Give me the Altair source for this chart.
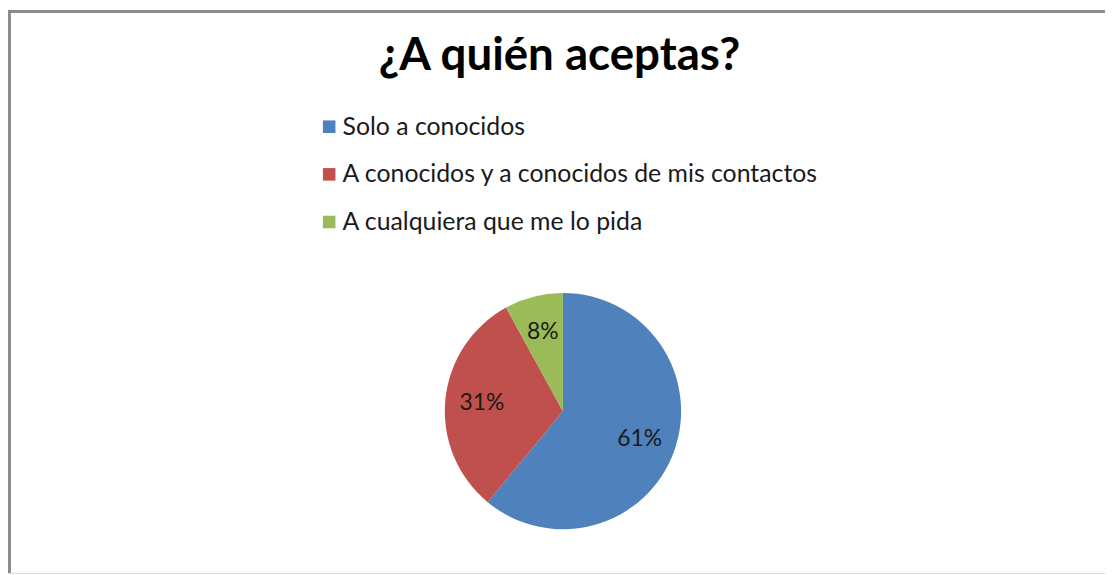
import altair as alt
import pandas as pd

categories = ["Solo a conocidos",
              "A conocidos y a conocidos de mis contactos",
              "A cualquiera que me lo pida"]
values = [61, 31, 8]
labels = ["61%", "31%", "8%"]
colors = ["#4F81BD", "#C0504D", "#9BBB59"]
title_text = "¿A quién aceptas?"

df = pd.DataFrame({"categoria": categories, "valor": values,
                   "etiqueta": labels, "orden": list(range(len(categories)))})
tdf = pd.DataFrame({"t": [title_text]})

W, H = 1105, 567
CX, CY, R = 559, 404, 119
FONT = "Lato"

base = alt.Chart(df).encode(
    theta=alt.Theta("valor:Q", stack=True),
    order=alt.Order("orden:Q"),
)

pie = base.mark_arc(outerRadius=R).encode(
    color=alt.Color(
        "categoria:N",
        scale=alt.Scale(domain=categories, range=colors),
        legend=alt.Legend(
            orient="none", legendX=311, legendY=105, title=None,
            symbolType="square", symbolSize=160, symbolStrokeWidth=0,
            labelFontSize=25, labelFont=FONT, labelColor="#1a1a1a",
            labelOffset=1, rowPadding=22, labelLimit=0, padding=0,
        ),
    ),
    x=alt.value(CX), y=alt.value(CY),
)

pct = base.mark_text(radius=82, fontSize=23, font=FONT, color="#1a1a1a").encode(
    text="etiqueta:N", x=alt.value(CX), y=alt.value(CY),
)

title = alt.Chart(tdf).mark_text(fontSize=46, fontWeight="bold", font=FONT,
                                 color="#000000", baseline="middle").encode(
    text="t:N", x=alt.value(W / 2 + 3), y=alt.value(46),
)

top_border = alt.Chart(tdf).mark_rule(color="#8c8c8c", strokeWidth=3).encode(
    x=alt.value(0), x2=alt.value(W), y=alt.value(1.5))
left_border = alt.Chart(tdf).mark_rule(color="#8c8c8c", strokeWidth=3).encode(
    x=alt.value(1.5), y=alt.value(0), y2=alt.value(H))

chart = alt.layer(top_border, left_border, title, pie, pct).properties(
    width=W, height=H, padding=0,
    autosize=alt.AutoSizeParams(type="none"),
).configure_view(stroke=None).configure(background="white")

chart.save("out.html", embed_options={"renderer": "svg", "actions": False})
